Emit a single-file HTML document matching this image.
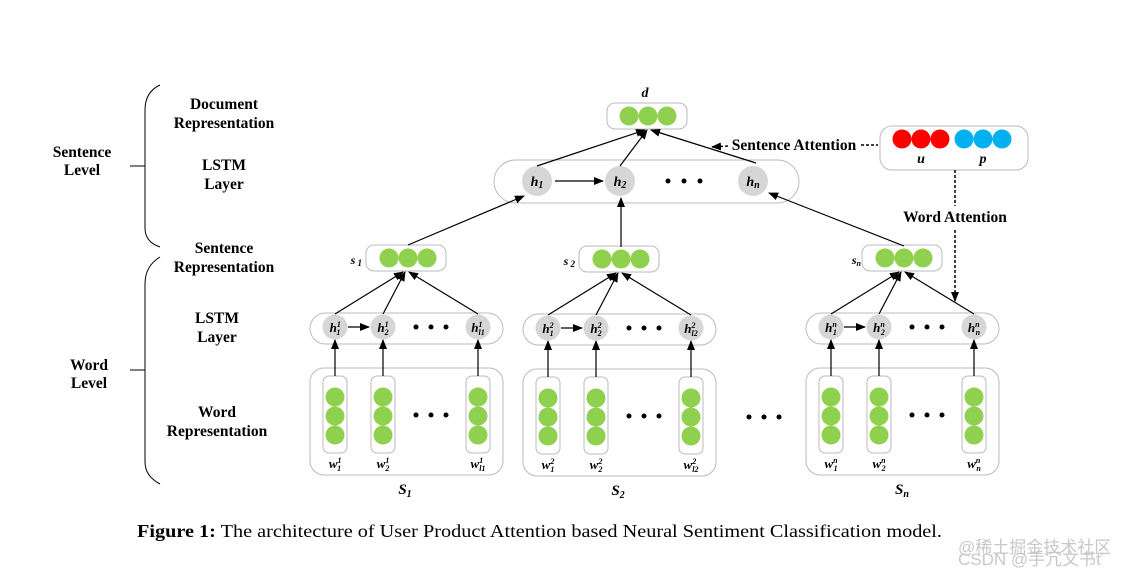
<!DOCTYPE html>
<html><head><meta charset="utf-8"><style>
html,body{margin:0;padding:0;background:#fff}
svg{display:block}
text{font-family:"Liberation Serif",serif;fill:#000}
.b{font-weight:bold;font-size:15.5px}
.n{font-weight:bold;font-style:italic}
</style></head><body>
<svg width="1138" height="574" viewBox="0 0 1138 574" xmlns="http://www.w3.org/2000/svg">
<defs>
<marker id="ar" markerWidth="10" markerHeight="8" refX="9" refY="4" orient="auto" markerUnits="userSpaceOnUse"><path d="M0,0 L10,4 L0,8 Z" fill="#000"/></marker>
<g id="grp">
 <rect x="310" y="313" width="193" height="31" rx="15.5" fill="#fff" stroke="#bbb"/>
 <circle cx="335" cy="327" r="12.5" fill="#d6d6d6"/>
 <circle cx="383" cy="327" r="12.5" fill="#d6d6d6"/>
 <circle cx="478" cy="327" r="12.5" fill="#d6d6d6"/>
 <circle cx="416" cy="327" r="2.5"/><circle cx="431" cy="327" r="2.5"/><circle cx="446" cy="327" r="2.5"/>
 <line x1="348" y1="327" x2="369" y2="327" stroke="#000" stroke-width="1.3" marker-end="url(#ar)"/>
 <rect x="366" y="245" width="80" height="26" rx="8" fill="#fff" stroke="#bbb"/>
 <circle cx="389" cy="258" r="9.5" fill="#8fd04e"/>
 <circle cx="408" cy="258" r="9.5" fill="#8fd04e"/>
 <circle cx="427" cy="258" r="9.5" fill="#8fd04e"/>
 <line x1="335" y1="314" x2="403" y2="272" stroke="#000" stroke-width="1.2" marker-end="url(#ar)"/>
 <line x1="383" y1="314" x2="405" y2="272" stroke="#000" stroke-width="1.2" marker-end="url(#ar)"/>
 <line x1="478" y1="314" x2="409" y2="272" stroke="#000" stroke-width="1.2" marker-end="url(#ar)"/>
 <rect x="310" y="368" width="193" height="107" rx="14" fill="#fff" stroke="#bbb"/>
 <rect x="323" y="376" width="24" height="77" rx="6" fill="#fff" stroke="#bbb"/>
 <rect x="371" y="376" width="24" height="77" rx="6" fill="#fff" stroke="#bbb"/>
 <rect x="466" y="376" width="24" height="77" rx="6" fill="#fff" stroke="#bbb"/>
 <g fill="#8fd04e">
 <circle cx="335" cy="397" r="9.5"/><circle cx="335" cy="416" r="9.5"/><circle cx="335" cy="435" r="9.5"/>
 <circle cx="383" cy="397" r="9.5"/><circle cx="383" cy="416" r="9.5"/><circle cx="383" cy="435" r="9.5"/>
 <circle cx="478" cy="397" r="9.5"/><circle cx="478" cy="416" r="9.5"/><circle cx="478" cy="435" r="9.5"/>
 </g>
 <circle cx="416" cy="415" r="2.5"/><circle cx="431" cy="415" r="2.5"/><circle cx="446" cy="415" r="2.5"/>
 <line x1="335" y1="376" x2="335" y2="340" stroke="#000" stroke-width="1.2" marker-end="url(#ar)"/>
 <line x1="383" y1="376" x2="383" y2="340" stroke="#000" stroke-width="1.2" marker-end="url(#ar)"/>
 <line x1="478" y1="376" x2="478" y2="340" stroke="#000" stroke-width="1.2" marker-end="url(#ar)"/>
</g>
</defs>

<path d="M160,85 Q145,92 145,110 L145,228 Q145,242 160,247" fill="none" stroke="#000" stroke-width="1"/>
<line x1="130" y1="166" x2="145" y2="166" stroke="#000"/>
<path d="M160,257 Q145,266 145,284 L145,462 Q145,476 160,484" fill="none" stroke="#000" stroke-width="1"/>
<line x1="130" y1="370" x2="145" y2="370" stroke="#000"/>

<g class="b" text-anchor="middle">
<text x="82" y="157">Sentence</text><text x="82" y="175">Level</text>
<text x="89" y="370">Word</text><text x="89" y="388">Level</text>
<text x="224" y="109">Document</text><text x="224" y="128">Representation</text>
<text x="224" y="170">LSTM</text><text x="224" y="189">Layer</text>
<text x="224" y="253">Sentence</text><text x="224" y="272">Representation</text>
<text x="217" y="323">LSTM</text><text x="217" y="342">Layer</text>
<text x="217" y="417">Word</text><text x="217" y="436">Representation</text>
</g>

<use href="#grp"/>
<use href="#grp" transform="translate(213,1)"/>
<use href="#grp" transform="translate(496,0)"/>

<g class="n" font-size="13" text-anchor="middle">
<text x="335" y="332">h<tspan font-size="8" dy="-5">1</tspan><tspan font-size="8" dx="-4" dy="8">1</tspan></text>
<text x="383" y="332">h<tspan font-size="8" dy="-5">1</tspan><tspan font-size="8" dx="-4" dy="8">2</tspan></text>
<text x="478" y="332">h<tspan font-size="8" dy="-5">1</tspan><tspan font-size="8" dx="-4" dy="8">l1</tspan></text>
<text x="548" y="333">h<tspan font-size="8" dy="-5">2</tspan><tspan font-size="8" dx="-4" dy="8">1</tspan></text>
<text x="596" y="333">h<tspan font-size="8" dy="-5">2</tspan><tspan font-size="8" dx="-4" dy="8">2</tspan></text>
<text x="691" y="333">h<tspan font-size="8" dy="-5">2</tspan><tspan font-size="8" dx="-4" dy="8">l2</tspan></text>
<text x="831" y="332">h<tspan font-size="8" dy="-5">n</tspan><tspan font-size="8" dx="-4" dy="8">1</tspan></text>
<text x="879" y="332">h<tspan font-size="8" dy="-5">n</tspan><tspan font-size="8" dx="-4" dy="8">2</tspan></text>
<text x="974" y="332">h<tspan font-size="8" dy="-5">n</tspan><tspan font-size="8" dx="-4" dy="8">n</tspan></text>

<text x="335" y="468">w<tspan font-size="8" dy="-5">1</tspan><tspan font-size="8" dx="-4" dy="8">1</tspan></text>
<text x="383" y="468">w<tspan font-size="8" dy="-5">1</tspan><tspan font-size="8" dx="-4" dy="8">2</tspan></text>
<text x="478" y="468">w<tspan font-size="8" dy="-5">1</tspan><tspan font-size="8" dx="-4" dy="8">l1</tspan></text>
<text x="548" y="469">w<tspan font-size="8" dy="-5">2</tspan><tspan font-size="8" dx="-4" dy="8">1</tspan></text>
<text x="596" y="469">w<tspan font-size="8" dy="-5">2</tspan><tspan font-size="8" dx="-4" dy="8">2</tspan></text>
<text x="691" y="469">w<tspan font-size="8" dy="-5">2</tspan><tspan font-size="8" dx="-4" dy="8">l2</tspan></text>
<text x="831" y="468">w<tspan font-size="8" dy="-5">n</tspan><tspan font-size="8" dx="-4" dy="8">1</tspan></text>
<text x="879" y="468">w<tspan font-size="8" dy="-5">n</tspan><tspan font-size="8" dx="-4" dy="8">2</tspan></text>
<text x="974" y="468">w<tspan font-size="8" dy="-5">n</tspan><tspan font-size="8" dx="-4" dy="8">n</tspan></text>
</g>
<g class="n" font-size="15" text-anchor="middle">
<text x="405" y="494">S<tspan font-size="10" dy="3">1</tspan></text>
<text x="618" y="495">S<tspan font-size="10" dy="3">2</tspan></text>
<text x="902" y="494">S<tspan font-size="10" dy="3">n</tspan></text>
</g>
<g class="n" font-size="12" text-anchor="end">
<text x="362" y="264">s<tspan font-size="9" dy="2"> 1</tspan></text>
<text x="575" y="265">s<tspan font-size="9" dy="2"> 2</tspan></text>
<text x="861" y="264">s<tspan font-size="8" dy="2">n</tspan></text>
</g>

<circle cx="749" cy="417" r="2.5"/><circle cx="764" cy="417" r="2.5"/><circle cx="779" cy="417" r="2.5"/>

<rect x="494" y="160" width="305" height="43" rx="21.5" fill="#fff" stroke="#bbb"/>
<circle cx="537" cy="181" r="15" fill="#d6d6d6"/>
<circle cx="620" cy="181" r="15" fill="#d6d6d6"/>
<circle cx="753" cy="181" r="15" fill="#d6d6d6"/>
<circle cx="668" cy="181" r="2.5"/><circle cx="684" cy="181" r="2.5"/><circle cx="700" cy="181" r="2.5"/>
<line x1="555" y1="181" x2="603" y2="181" stroke="#000" stroke-width="1.3" marker-end="url(#ar)"/>
<rect x="607" y="103" width="80" height="26" rx="8" fill="#fff" stroke="#bbb"/>
<circle cx="629" cy="116" r="9.5" fill="#8fd04e"/>
<circle cx="648" cy="116" r="9.5" fill="#8fd04e"/>
<circle cx="667" cy="116" r="9.5" fill="#8fd04e"/>

<rect x="880" y="126" width="148" height="44" rx="12" fill="#fff" stroke="#bbb"/>
<circle cx="902" cy="139" r="9.5" fill="#ff0000"/>
<circle cx="921" cy="139" r="9.5" fill="#ff0000"/>
<circle cx="940" cy="139" r="9.5" fill="#ff0000"/>
<circle cx="964" cy="139" r="9.5" fill="#00b0f0"/>
<circle cx="983" cy="139" r="9.5" fill="#00b0f0"/>
<circle cx="1002" cy="139" r="9.5" fill="#00b0f0"/>

<g class="n" font-size="14" text-anchor="middle">
<text x="537" y="186">h<tspan font-size="10" dy="2">1</tspan></text>
<text x="620" y="186">h<tspan font-size="10" dy="2">2</tspan></text>
<text x="753" y="186">h<tspan font-size="10" dy="2">n</tspan></text>
<text x="645" y="97">d</text>
<text x="921" y="163">u</text>
<text x="983" y="163">p</text>
</g>

<g stroke="#000" stroke-width="1.2" fill="none">
<line x1="537" y1="166" x2="645" y2="130" marker-end="url(#ar)"/>
<line x1="620" y1="166" x2="647" y2="130" marker-end="url(#ar)"/>
<line x1="756" y1="163" x2="651" y2="130" marker-end="url(#ar)"/>
<line x1="408" y1="245" x2="524" y2="196" marker-end="url(#ar)"/>
<line x1="621" y1="247" x2="621" y2="198" marker-end="url(#ar)"/>
<line x1="904" y1="246" x2="769" y2="193" marker-end="url(#ar)"/>
</g>

<text class="b" x="794" y="150" text-anchor="middle" font-size="15.5">Sentence Attention</text>
<line x1="861" y1="145" x2="878" y2="145" stroke="#000" stroke-width="1.5" stroke-dasharray="3,2"/>
<line x1="728" y1="146" x2="712" y2="147" stroke="#000" stroke-width="1.5" stroke-dasharray="3,2" marker-end="url(#ar)"/>
<line x1="955" y1="170" x2="955" y2="206" stroke="#000" stroke-width="1.5" stroke-dasharray="3,2"/>
<text class="b" x="955" y="222" text-anchor="middle" font-size="15.5">Word Attention</text>
<line x1="955" y1="230" x2="955" y2="301" stroke="#000" stroke-width="1.5" stroke-dasharray="3,2" marker-end="url(#ar)"/>

<text x="137" y="537" font-size="18" textLength="805" lengthAdjust="spacingAndGlyphs"><tspan font-weight="bold">Figure 1:</tspan> The architecture of User Product Attention based Neural Sentiment Classification model.</text>
<text x="958" y="553" font-size="17" style="fill:#c8c8c8;font-family:'Liberation Sans','Noto Sans CJK SC',sans-serif">@稀土掘金技术社区</text>
<text x="958" y="565" font-size="17" style="fill:#c8c8c8;font-family:'Liberation Sans','Noto Sans CJK SC',sans-serif">CSDN @手冗文书ť</text>
</svg>
</body></html>
